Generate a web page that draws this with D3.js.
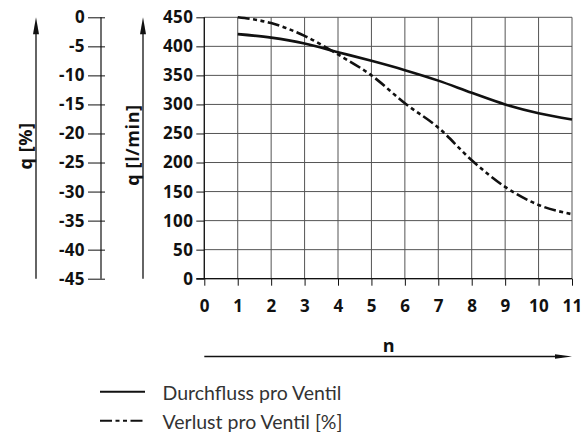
<!DOCTYPE html>
<html>
<head>
<meta charset="utf-8">
<script src="https://cdn.jsdelivr.net/npm/d3@7"></script>
<style>
  body { margin: 0; background: #fff; }
  svg { display: block; }
</style>
</head>
<body>
<div id="chart"></div>
<script>
// Data
const nValues = [1, 2, 3, 4, 5, 6, 7, 8, 9, 10, 11];
const flowValues = [421, 415, 405, 390, 375, 359, 341, 320, 300, 285, 274];      // l/min
const lossValues = [0, -1, -3.2, -6.4, -10, -14.8, -19, -24.6, -29.2, -32.3, -33.9]; // %
const xTicks = [0, 1, 2, 3, 4, 5, 6, 7, 8, 9, 10, 11];
const flowTicks = [0, 50, 100, 150, 200, 250, 300, 350, 400, 450];
const pctTicks = [0, -5, -10, -15, -20, -25, -30, -35, -40, -45];
const legendLabels = ["Durchfluss pro Ventil", "Verlust pro Ventil [%]"];

const W = 585, H = 432;
const plot = { left: 204.3, right: 572, top: 17.3, bottom: 278.7 };
const pctAxisX = 101;
const tickFont = "'Open Sans', sans-serif";
const ink = "#111";
const dashPattern = "12 3.5 4 3.5 4 3.5";
const plain = d => String(d); // keep ascii hyphen for negatives

const svg = d3.select("#chart").append("svg")
  .attr("width", W)
  .attr("height", H);

svg.append("rect").attr("width", W).attr("height", H).attr("fill", "#fff");

// Scales
const x = d3.scaleLinear().domain([0, 11]).range([plot.left, plot.right]);
const yFlow = d3.scaleLinear().domain([0, 450]).range([plot.bottom, plot.top]);
const yPct = d3.scaleLinear().domain([-45, 0]).range([plot.bottom, plot.top]);

// Grid
const grid = svg.append("g").attr("stroke", "#555").attr("stroke-width", 1);
grid.selectAll(".hgrid")
  .data(flowTicks)
  .enter().append("line")
  .attr("x1", plot.left).attr("x2", plot.right)
  .attr("y1", d => yFlow(d)).attr("y2", d => yFlow(d));
grid.selectAll(".vgrid")
  .data(xTicks)
  .enter().append("line")
  .attr("x1", d => x(d)).attr("x2", d => x(d))
  .attr("y1", plot.top).attr("y2", plot.bottom);

// Main y axis (l/min)
const flowAxis = svg.append("g")
  .attr("transform", `translate(${plot.left},0)`)
  .call(d3.axisLeft(yFlow).tickValues(flowTicks).tickSize(8).tickPadding(3).tickFormat(plain));

// x axis
const xAxis = svg.append("g")
  .attr("transform", `translate(0,${plot.bottom})`)
  .call(d3.axisBottom(x).tickValues(xTicks).tickSize(7).tickPadding(14).tickFormat(plain));

// Percent axis
const pctAxis = svg.append("g")
  .attr("transform", `translate(${pctAxisX},0)`)
  .call(d3.axisLeft(yPct).tickValues(pctTicks).tickSize(13).tickPadding(3).tickFormat(plain));
pctAxis.selectAll(".tick line").attr("x2", 4).attr("x1", -13);

[flowAxis, xAxis, pctAxis].forEach(g => {
  g.select(".domain").attr("stroke", ink).attr("stroke-width", 1.2);
  g.selectAll(".tick line").attr("stroke", ink).attr("stroke-width", 1);
  g.selectAll(".tick text")
    .attr("fill", ink)
    .style("font-family", tickFont)
    .style("font-weight", 700)
    .style("font-size", "17px")
    .style("letter-spacing", "0.4px");
});
flowAxis.select(".domain").attr("d", `M0,${plot.top}V${plot.bottom}`);
pctAxis.select(".domain").attr("d", `M0,${plot.top}V${plot.bottom}`);
xAxis.select(".domain").attr("d", `M${plot.left - 8},0H${plot.right}`);

// Arrows
function arrowHead(g, tipX, tipY, dir) {
  const len = 17, half = 3;
  let pts;
  if (dir === "up") pts = [[tipX, tipY], [tipX - half, tipY + len], [tipX + half, tipY + len]];
  else pts = [[tipX, tipY], [tipX - len, tipY - half + 0.8], [tipX - len, tipY + half - 0.8]];
  g.append("path").attr("d", d3.line()(pts) + "Z").attr("fill", ink);
}
const arrows = svg.append("g");
[36, 143].forEach(ax => {
  arrows.append("line")
    .attr("x1", ax).attr("x2", ax)
    .attr("y1", plot.bottom).attr("y2", plot.top + 10)
    .attr("stroke", ink).attr("stroke-width", 1.3);
  arrowHead(arrows, ax, plot.top, "up");
});
const nArrowY = 356.5;
arrows.append("line")
  .attr("x1", plot.left).attr("x2", plot.right - 10)
  .attr("y1", nArrowY).attr("y2", nArrowY)
  .attr("stroke", ink).attr("stroke-width", 1.3);
arrowHead(arrows, plot.right, nArrowY, "right");

// Axis titles
const titleStyle = sel => sel
  .attr("fill", ink)
  .style("font-family", tickFont)
  .style("font-weight", 700)
  .style("font-size", "18px")
  .style("letter-spacing", "0.6px")
  .attr("text-anchor", "middle");
svg.append("text")
  .attr("transform", "translate(31.5,146) rotate(-90)")
  .text("q [%]").call(titleStyle);
svg.append("text")
  .attr("transform", "translate(138.5,145) rotate(-90)")
  .text("q [l/min]").call(titleStyle);
svg.append("text")
  .attr("x", 389).attr("y", 352)
  .text("n").call(titleStyle);

// Curves
const flowLine = d3.line()
  .x((d, i) => x(nValues[i]))
  .y(d => yFlow(d))
  .curve(d3.curveMonotoneX);
const lossLine = d3.line()
  .x((d, i) => x(nValues[i]))
  .y(d => yPct(d))
  .curve(d3.curveMonotoneX);

svg.append("path")
  .datum(flowValues)
  .attr("d", flowLine)
  .attr("fill", "none")
  .attr("stroke", ink)
  .attr("stroke-width", 2.6);
svg.append("path")
  .datum(lossValues)
  .attr("d", lossLine)
  .attr("fill", "none")
  .attr("stroke", ink)
  .attr("stroke-width", 2.6)
  .attr("stroke-dasharray", dashPattern);

// Legend
const legend = svg.append("g");
legendLabels.forEach((label, i) => {
  const ly = 391.7 + i * 29;
  legend.append("line")
    .attr("x1", 100).attr("x2", 145)
    .attr("y1", ly).attr("y2", ly)
    .attr("stroke", ink).attr("stroke-width", 2)
    .attr("stroke-dasharray", i === 1 ? dashPattern : null);
  legend.append("text")
    .attr("x", 162.5).attr("y", ly + 8)
    .attr("fill", "#333")
    .style("font-family", "Lato, sans-serif")
    .style("font-size", "19.5px")
    .text(label);
});
</script>
</body>
</html>
